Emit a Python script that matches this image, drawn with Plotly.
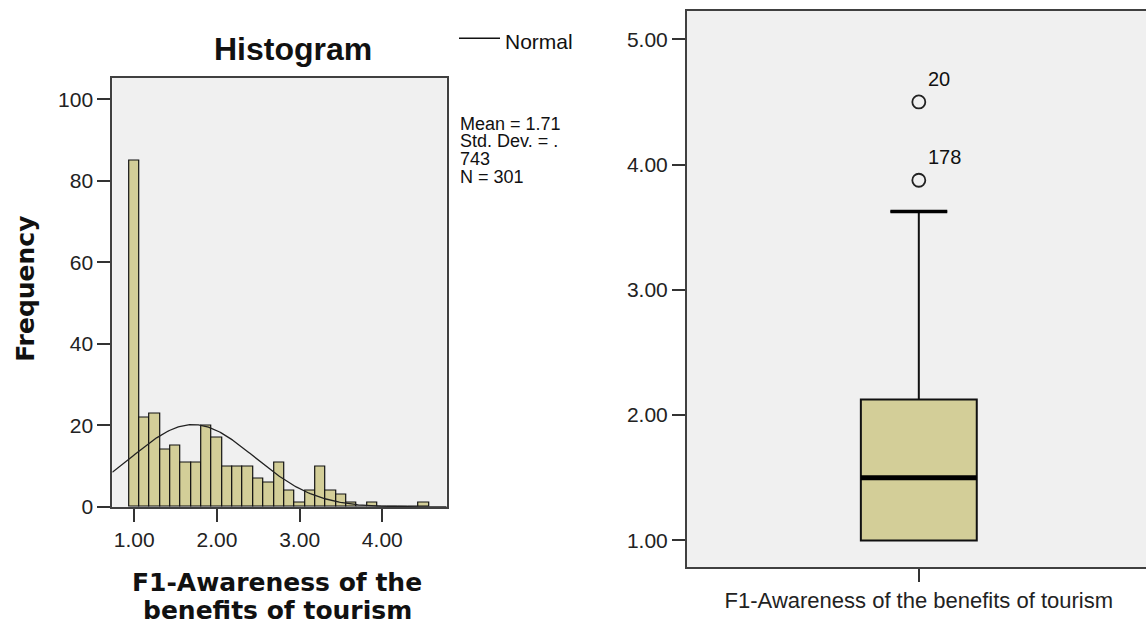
import numpy as np
import plotly.graph_objects as go

# ---------------- data ----------------
bin_width = 0.125
bin_centers = [1.0, 1.125, 1.25, 1.375, 1.5, 1.625, 1.75, 1.875, 2.0, 2.125,
               2.25, 2.375, 2.5, 2.625, 2.75, 2.875, 3.0, 3.125, 3.25, 3.375,
               3.5, 3.625, 3.75, 3.875, 4.0, 4.125, 4.25, 4.375, 4.5]
counts = [85, 22, 23, 14, 15, 11, 11, 20, 17, 10,
          10, 10, 7, 6, 11, 4, 1, 4, 10, 4,
          3, 1, 0, 1, 0, 0, 0, 0, 1]
mean_val = 1.71
sd_val = 0.743
n_val = 301
stats_lines = ["Mean = 1.71", "Std. Dev. = .", "743", "N = 301"]

hist_xticks = [1, 2, 3, 4]
hist_xticktext = ["1.00", "2.00", "3.00", "4.00"]
hist_yticks = [0, 20, 40, 60, 80, 100]

box_label = "F1-Awareness of the benefits of tourism"
box_q1 = 1.0
box_median = 1.5
box_q3 = 2.125
box_low = 1.0
box_high = 3.625
outlier_vals = [4.5, 3.875]
outlier_ids = ["20", "178"]
box_yticks = [1, 2, 3, 4, 5]
box_yticktext = ["1.00", "2.00", "3.00", "4.00", "5.00"]

# ---------------- styling ----------------
W, H = 1146, 630
def px(x):
    return x / W
def py(y):
    return 1 - y / H

BAR = "#d3ce98"
PLOTBG = "#f0f0f0"
FRAME = "#404040"
TICKFONT = dict(family="Liberation Sans, Arial, sans-serif", size=21, color="#222")

hist_xrange = [0.734, 4.779]
hist_yrange = [0, 105.3]

fig = go.Figure()

fig.add_trace(go.Bar(
    x=bin_centers, y=counts, width=bin_width,
    marker=dict(color=BAR, line=dict(color="#111", width=1.2)),
    xaxis="x", yaxis="y", showlegend=False, hoverinfo="x+y"))

xs = np.linspace(hist_xrange[0], hist_xrange[1], 300)
ys = n_val * bin_width / (sd_val * np.sqrt(2 * np.pi)) * np.exp(-0.5 * ((xs - mean_val) / sd_val) ** 2)
fig.add_trace(go.Scatter(x=xs, y=ys, mode="lines", line=dict(color="#222", width=1.3),
                         xaxis="x", yaxis="y", showlegend=False, hoverinfo="skip"))

box_w = 0.5
fig.add_trace(go.Box(
    x=[0], q1=[box_q1], median=[box_median], q3=[box_q3],
    lowerfence=[box_low], upperfence=[box_high], width=box_w,
    fillcolor=BAR, line=dict(color="#111", width=2), whiskerwidth=0.49,
    boxpoints=False, xaxis="x2", yaxis="y2", showlegend=False))

fig.add_trace(go.Scatter(
    x=[0] * len(outlier_vals), y=outlier_vals, mode="markers",
    marker=dict(symbol="circle-open", size=13, color="#222", line=dict(width=1.8)),
    xaxis="x2", yaxis="y2", showlegend=False))

shapes = [
    dict(type="line", xref="x2", yref="y2", x0=-box_w / 2, x1=box_w / 2,
         y0=box_median, y1=box_median, line=dict(color="#000", width=5)),
    dict(type="line", xref="x2", yref="y2", x0=-box_w * 0.49 / 2, x1=box_w * 0.49 / 2,
         y0=box_high, y1=box_high, line=dict(color="#000", width=3.5)),
    dict(type="line", xref="paper", yref="paper", x0=px(459), x1=px(500),
         y0=py(39), y1=py(39), line=dict(color="#111", width=1.5)),
]

annotations = [
    dict(text="<b>Histogram</b>", x=px(292.5), y=py(50), xref="paper", yref="paper",
         showarrow=False, xanchor="center", yanchor="middle",
         font=dict(family="Liberation Sans, Arial, sans-serif", size=32, color="#111")),
    dict(text="<b>Frequency</b>", x=px(26), y=py(294), xref="paper", yref="paper",
         showarrow=False, textangle=-90, xanchor="center", yanchor="middle",
         font=dict(family="DejaVu Sans, sans-serif", size=25, color="#111")),
    dict(text="<b>F1-Awareness of the</b>", x=px(277), y=py(593), xref="paper", yref="paper",
         showarrow=False, xanchor="center", yanchor="middle",
         font=dict(family="DejaVu Sans, sans-serif", size=25, color="#111")),
    dict(text="<b>benefits of tourism</b>", x=px(277), y=py(621), xref="paper", yref="paper",
         showarrow=False, xanchor="center", yanchor="middle",
         font=dict(family="DejaVu Sans, sans-serif", size=25, color="#111")),
    dict(text="Normal", x=px(503), y=py(42), xref="paper", yref="paper",
         showarrow=False, xanchor="left", yanchor="middle",
         font=dict(family="Liberation Sans, Arial, sans-serif", size=21, color="#111")),
]
stat_y = [126, 144, 162, 180]
for line, yy in zip(stats_lines, stat_y):
    annotations.append(dict(text=line, x=px(458), y=py(yy), xref="paper", yref="paper",
                            showarrow=False, xanchor="left", yanchor="middle",
                            font=dict(family="Liberation Sans, Arial, sans-serif", size=18, color="#111")))
for v, lab in zip(outlier_vals, outlier_ids):
    annotations.append(dict(text=lab, x=0, y=v, xref="x2", yref="y2", showarrow=False,
                            xanchor="left", yanchor="middle", xshift=7, yshift=23,
                            font=dict(family="Liberation Sans, Arial, sans-serif", size=20, color="#111")))

axis_common = dict(showgrid=False, zeroline=False, ticks="outside", ticklen=13,
                   tickwidth=2, tickcolor="#333", tickfont=TICKFONT,
                   showline=True, linecolor=FRAME, linewidth=2)

# box panel: frame top ~11px, tick 5.00 ~40px, tick 1.00 ~550px, frame bottom ~577px
box_top_px, box_bot_px = 11, 577
y5_px, y1_px = 40, 550
ppu = (y1_px - y5_px) / 4.0
box_yrange = [1 - (box_bot_px - y1_px) / ppu, 5 + (y5_px - box_top_px) / ppu]

fig.update_layout(
    width=W, height=H, autosize=False,
    margin=dict(l=0, r=0, t=0, b=0),
    paper_bgcolor="white", plot_bgcolor=PLOTBG,
    bargap=0,
    xaxis=dict(domain=[px(112.3), px(446.7)], range=hist_xrange, tickvals=hist_xticks,
               ticktext=hist_xticktext, mirror=True, anchor="y", **axis_common),
    yaxis=dict(domain=[py(516), py(79)], range=hist_yrange, tickvals=hist_yticks,
               mirror=True, anchor="x", **axis_common),
    xaxis2=dict(domain=[px(687), 1], range=[-1, 0.98], tickvals=[0], ticktext=[box_label],
                mirror=True, anchor="y2", **axis_common),
    yaxis2=dict(domain=[py(box_bot_px), py(box_top_px)], range=box_yrange, tickvals=box_yticks,
                ticktext=box_yticktext, mirror=False, anchor="x2", **axis_common),
    shapes=shapes, annotations=annotations,
)
fig.update_layout(xaxis2_tickfont=dict(family="Liberation Sans, Arial, sans-serif", size=22, color="#222"))

fig.write_html("out.html")
